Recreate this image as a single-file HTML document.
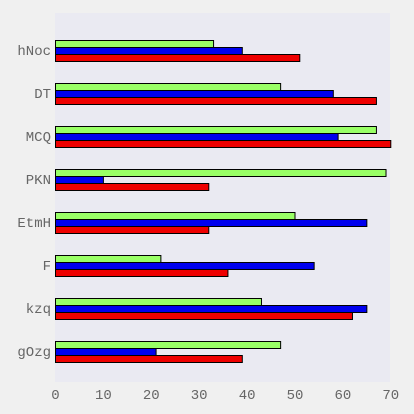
<!DOCTYPE html>
<html><head><meta charset="utf-8"><style>
body{margin:0;background:#f0f0f0;}
svg{display:block;font-family:"Liberation Mono",monospace;}
</style></head><body>
<svg id="c" width="414" height="414">
<rect x="55" y="13" width="335" height="369" fill="#eaeaf2"/>
<g id="bars"></g><g id="labels"></g>
</svg>
<script>
const categories=["hNoc","DT","MCQ","PKN","EtmH","F","kzq","gOzg"];
const greenValues=[33,47,67,69,50,22,43,47];
const blueValues=[39,58,59,10,65,54,65,21];
const redValues=[51,67,70,32,32,36,62,39];
const xTicks=[0,10,20,30,40,50,60,70];
const NS="http://www.w3.org/2000/svg";
const x=v=>55.5+v*4.79;
const yc=i=>51+i*43;
const bars=document.getElementById('bars'),labels=document.getElementById('labels');
function mk(t,a,p){const e=document.createElementNS(NS,t);for(const k in a)e.setAttribute(k,a[k]);p.appendChild(e);return e;}
const series=[[greenValues,"#99ff66",-10.5,"green"],[blueValues,"#0000ee",-3.5,"blue"],[redValues,"#ee0000",3.5,"red"]];
categories.forEach((c,i)=>{
  series.forEach(s=>{
    const r=mk('rect',{x:x(0),y:yc(i)+s[2],width:x(s[0][i])-x(0),height:7,fill:s[1],stroke:"#000","stroke-width":1},bars);
    
    
  });
  const t=mk('text',{x:51,y:yc(i)+4,"text-anchor":"end","font-size":14,fill:"#666"},labels);
  t.textContent=c;
  
  
});
xTicks.forEach(v=>{
  const t=mk('text',{x:x(v),y:399,"text-anchor":"middle","font-size":14,fill:"#666"},labels);
  t.textContent=v;
  
  
});
</script>
</body></html>
